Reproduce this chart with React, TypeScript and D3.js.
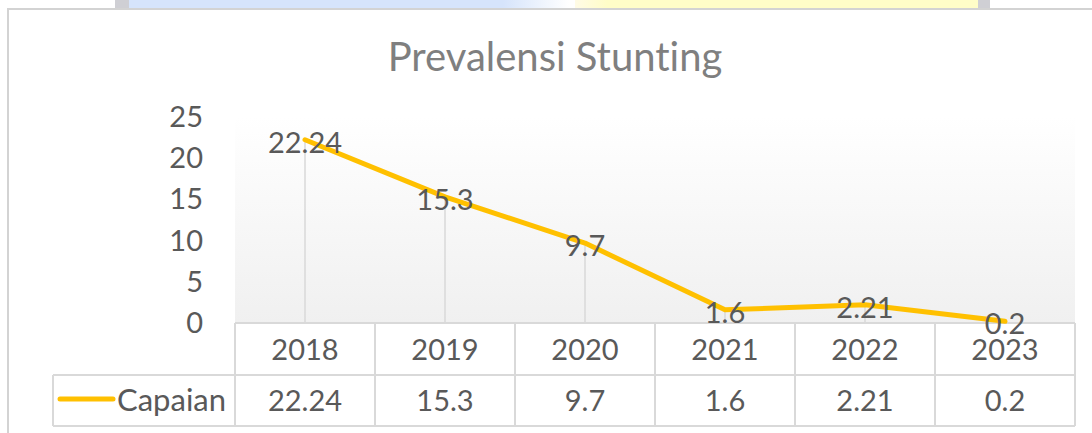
import React, { useEffect, useRef } from "react";
import * as d3 from "d3";

// data
const years = ["2018", "2019", "2020", "2021", "2022", "2023"];
const capaian = [22.24, 15.3, 9.7, 1.6, 2.21, 0.2];
const yTicks = [0, 5, 10, 15, 20, 25];
const seriesName = "Capaian";
const title = "Prevalensi Stunting";

const W = 1092;
const H = 433;
const FONT = "Lato, 'Noto Sans', sans-serif";
const TEXT = "#595959";
const GRID = "#d9d9d9";
const GOLD = "#ffc000";

const App = () => {
  const ref = useRef<SVGSVGElement>(null);

  useEffect(() => {
    const svg = d3.select(ref.current);
    svg.selectAll("*").remove();

    // plot geometry
    const left = 235;
    const right = 1075;
    const bottom = 323;
    const row1 = 375;
    const row2 = 426;

    const x = d3.scaleBand<string>().domain(years).range([left, right]);
    const y = d3.scaleLinear().domain([0, 25]).range([bottom, 117]);
    const cx = (d: string) => (x(d) as number) + x.bandwidth() / 2;

    const defs = svg.append("defs");
    const bg = defs
      .append("linearGradient")
      .attr("id", "plotbg")
      .attr("x1", 0)
      .attr("y1", 0)
      .attr("x2", 0)
      .attr("y2", 1);
    bg.append("stop").attr("offset", "0%").attr("stop-color", "#ffffff");
    bg.append("stop").attr("offset", "100%").attr("stop-color", "#f0f0f0");

    const blue = defs.append("linearGradient").attr("id", "bluestrip");
    blue.append("stop").attr("offset", "0%").attr("stop-color", "#d6e4fb");
    blue.append("stop").attr("offset", "85%").attr("stop-color", "#d6e4fb");
    blue.append("stop").attr("offset", "100%").attr("stop-color", "#ffffff");

    const yellow = defs.append("linearGradient").attr("id", "yellowstrip");
    yellow.append("stop").attr("offset", "0%").attr("stop-color", "#fffbe6");
    yellow.append("stop").attr("offset", "8%").attr("stop-color", "#fffdc8");
    yellow.append("stop").attr("offset", "100%").attr("stop-color", "#fffdc8");

    // background page pieces peeking above the chart
    svg.append("rect").attr("width", W).attr("height", H).attr("fill", "#ffffff");
    svg.append("rect").attr("x", 115).attr("y", 0).attr("width", 14).attr("height", 8).attr("fill", "#cfcfd4");
    svg.append("rect").attr("x", 129).attr("y", 0).attr("width", 440).attr("height", 8).attr("fill", "url(#bluestrip)");
    svg.append("rect").attr("x", 575).attr("y", 0).attr("width", 403).attr("height", 8).attr("fill", "url(#yellowstrip)");
    svg.append("rect").attr("x", 978).attr("y", 0).attr("width", 12).attr("height", 8).attr("fill", "#cfcfd4");

    // chart frame
    svg.append("line").attr("x1", 7).attr("x2", W).attr("y1", 9).attr("y2", 9).attr("stroke", "#d3d3d3").attr("stroke-width", 2);
    svg.append("line").attr("x1", 8).attr("x2", 8).attr("y1", 9).attr("y2", H).attr("stroke", "#d3d3d3").attr("stroke-width", 2);

    // title
    svg
      .append("text")
      .attr("x", 555)
      .attr("y", 71)
      .attr("text-anchor", "middle")
      .attr("font-family", FONT)
      .attr("font-size", 40)
      .attr("fill", "#7f7f7f")
      .style("font-variant-ligatures", "none")
      .text(title);

    // plot area
    svg
      .append("rect")
      .attr("x", left)
      .attr("y", y(25))
      .attr("width", right - left)
      .attr("height", bottom - y(25))
      .attr("fill", "url(#plotbg)");

    // y axis labels
    svg
      .append("g")
      .selectAll("text")
      .data(yTicks)
      .join("text")
      .attr("x", 203)
      .attr("y", (d) => y(d) + 10)
      .attr("text-anchor", "end")
      .attr("font-family", FONT)
      .attr("font-size", 29)
      .attr("fill", TEXT)
      .text((d) => d);

    // drop lines
    svg
      .append("g")
      .selectAll("line")
      .data(years)
      .join("line")
      .attr("x1", cx)
      .attr("x2", cx)
      .attr("y1", (d, i) => y(capaian[i]))
      .attr("y2", bottom)
      .attr("stroke", GRID)
      .attr("stroke-width", 1.5);

    // data table
    const table = svg.append("g").attr("stroke", GRID).attr("stroke-width", 2).attr("fill", "none");
    table.append("line").attr("x1", left).attr("x2", right).attr("y1", bottom).attr("y2", bottom);
    table.append("line").attr("x1", 53).attr("x2", right).attr("y1", row1).attr("y2", row1);
    table.append("line").attr("x1", 53).attr("x2", right).attr("y1", row2).attr("y2", row2);
    table.append("line").attr("x1", 53).attr("x2", 53).attr("y1", row1).attr("y2", row2);
    table
      .selectAll("line.col")
      .data([...years.map((d) => x(d) as number), right])
      .join("line")
      .attr("class", "col")
      .attr("x1", (d) => d)
      .attr("x2", (d) => d)
      .attr("y1", bottom)
      .attr("y2", row2);

    svg
      .append("g")
      .selectAll("text")
      .data(years)
      .join("text")
      .attr("x", cx)
      .attr("y", 360)
      .attr("text-anchor", "middle")
      .attr("font-family", FONT)
      .attr("font-size", 29)
      .attr("fill", TEXT)
      .text((d) => d);

    svg
      .append("g")
      .selectAll("text")
      .data(capaian)
      .join("text")
      .attr("x", (d, i) => cx(years[i]))
      .attr("y", 411)
      .attr("text-anchor", "middle")
      .attr("font-family", FONT)
      .attr("font-size", 29)
      .attr("fill", TEXT)
      .text((d) => d);

    // legend key in the table
    svg
      .append("line")
      .attr("x1", 60)
      .attr("x2", 113)
      .attr("y1", 399)
      .attr("y2", 399)
      .attr("stroke", GOLD)
      .attr("stroke-width", 5)
      .attr("stroke-linecap", "round");
    svg
      .append("text")
      .attr("x", 117)
      .attr("y", 411)
      .attr("font-family", FONT)
      .attr("font-size", 31)
      .attr("fill", TEXT)
      .text(seriesName);

    // the line
    const line = d3
      .line<number>()
      .x((d, i) => cx(years[i]))
      .y((d) => y(d));
    svg
      .append("path")
      .datum(capaian)
      .attr("fill", "none")
      .attr("stroke", GOLD)
      .attr("stroke-width", 5)
      .attr("stroke-linejoin", "round")
      .attr("stroke-linecap", "round")
      .attr("d", line);

    // data labels, centred on the points
    svg
      .append("g")
      .selectAll("text")
      .data(capaian)
      .join("text")
      .attr("x", (d, i) => cx(years[i]))
      .attr("y", (d) => y(d) + 13)
      .attr("text-anchor", "middle")
      .attr("font-family", FONT)
      .attr("font-size", 29)
      .attr("fill", TEXT)
      .text((d) => d);
  }, []);

  return (
    <svg
      ref={ref}
      width={W}
      height={H}
      style={{ position: "absolute", left: 0, top: 0, display: "block" }}
    />
  );
};

export default App;
